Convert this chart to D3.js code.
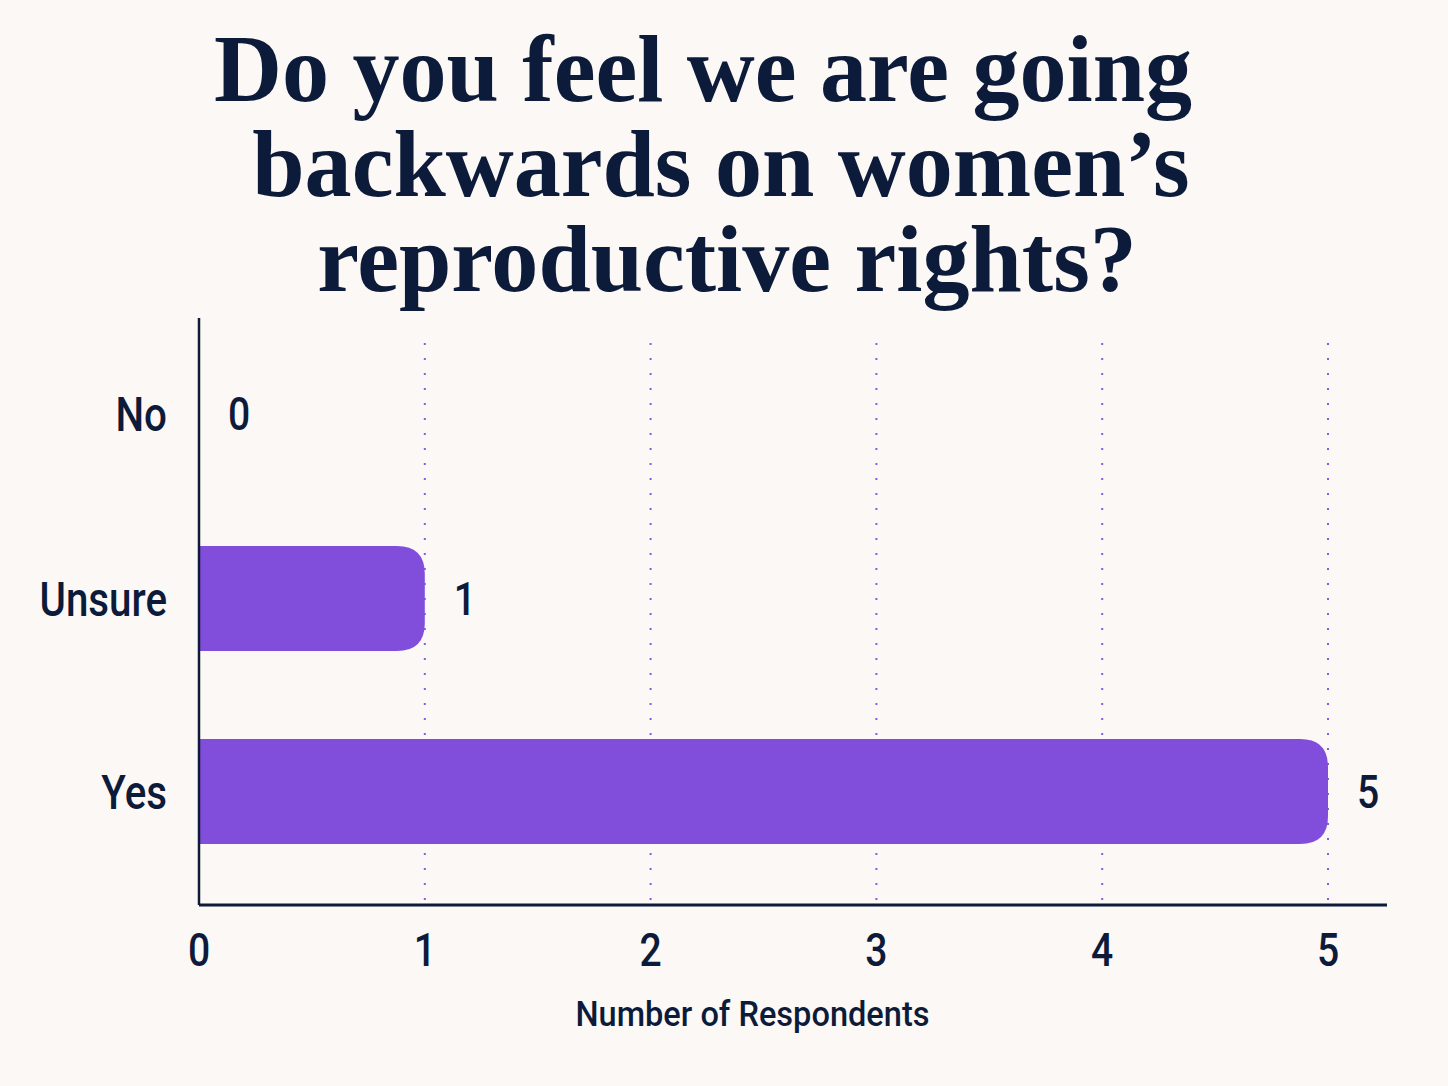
<!DOCTYPE html>
<html>
<head>
<meta charset="utf-8">
<script src="https://cdn.jsdelivr.net/npm/d3@7"></script>
<style>
  html, body { margin: 0; padding: 0; background: #fcf8f5; }
  svg { display: block; }
  .title { font-family: "Liberation Serif", serif; font-weight: 700; fill: #0d1b3a; }
  .lab { font-family: Roboto, sans-serif; font-weight: 500; fill: #0d1b3a; }
</style>
</head>
<body>
<svg id="chart"></svg>
<script>
// chart data
var titleLines = ['Do you feel we are going', 'backwards on women\u2019s', 'reproductive rights?']
var categories = ['No', 'Unsure', 'Yes']
var counts = [0, 1, 5]
var xTicks = [0, 1, 2, 3, 4, 5]
var xLabel = 'Number of Respondents'

var W = 1448, H = 1086
var margin = {top: 292, left: 199, right: 62, bottom: 181}
var width = W - margin.left - margin.right
var height = H - margin.top - margin.bottom

var svg = d3.select('#chart')
    .attr('width', W)
    .attr('height', H)

svg.append('rect').attr('width', W).attr('height', H).attr('fill', '#fcf8f5')

// squeeze text horizontally to mimic a condensed face
function condense (sel, k) {
  sel.each(function () {
    var len = this.getComputedTextLength()
    d3.select(this).attr('textLength', len * k).attr('lengthAdjust', 'spacingAndGlyphs')
  })
}

// title
svg.selectAll('.title')
    .data(titleLines)
  .enter().append('text')
    .attr('class', 'title')
    .attr('x', function (d, i) { return [703, 721, 727][i] })
    .attr('y', function (d, i) { return 101 + i * 95 })
    .attr('text-anchor', 'middle')
    .attr('font-size', 96)
    .text(function (d) { return d })
    .call(condense, 0.98)

var g = svg.append('g')
    .attr('transform', 'translate(' + margin.left + ',' + margin.top + ')')

var x = d3.scaleLinear().domain([0, 5]).range([0, 1129])
var y = d3.scaleBand().domain(categories).range([0, height]).paddingInner(0.456).paddingOuter(0.316)

// dotted grid lines
g.selectAll('.grid')
    .data(xTicks.filter(function (d) { return d > 0 }))
  .enter().append('line')
    .attr('x1', function (d) { return x(d) })
    .attr('x2', function (d) { return x(d) })
    .attr('y1', 51)
    .attr('y2', height)
    .attr('stroke', '#8a5ae6')
    .attr('stroke-width', 2)
    .attr('stroke-dasharray', '2,13')

// bars, rounded on the right end only
var r = 28
g.selectAll('.bar')
    .data(counts)
  .enter().filter(function (d) { return d > 0 }).append('path')
    .attr('fill', '#814ddb')
    .attr('d', function (d) {
      var c = categories[counts.indexOf(d)]
      var y0 = y(c), bh = y.bandwidth(), x1 = x(d), x0 = x(0)
      var rr = Math.min(r, x1 - x0)
      return 'M' + x0 + ',' + y0 +
        'H' + (x1 - rr) +
        'Q' + x1 + ',' + y0 + ' ' + x1 + ',' + (y0 + rr) +
        'V' + (y0 + bh - rr) +
        'Q' + x1 + ',' + (y0 + bh) + ' ' + (x1 - rr) + ',' + (y0 + bh) +
        'H' + x0 + 'Z'
    })

// value labels
g.selectAll('.val')
    .data(counts)
  .enter().append('text')
    .attr('class', 'lab')
    .attr('x', function (d) { return x(d) + 29 })
    .attr('y', function (d, i) { return y(categories[i]) + y.bandwidth() / 2 + (i === 0 ? 8 : 0) })
    .attr('dy', '0.36em')
    .attr('font-size', 46)
    .text(function (d) { return d })
    .call(condense, 0.85)

// category labels
g.selectAll('.cat')
    .data(categories)
  .enter().append('text')
    .attr('class', 'lab')
    .attr('x', -32)
    .attr('y', function (d, i) { return y(d) + y.bandwidth() / 2 + (i === 0 ? 8 : 0) })
    .attr('dy', '0.36em')
    .attr('text-anchor', 'end')
    .attr('font-size', 48)
    .text(function (d) { return d })
    .call(condense, 0.84)

// axes lines
g.append('line')
    .attr('x1', 0).attr('x2', 0)
    .attr('y1', 26).attr('y2', height)
    .attr('stroke', '#0d1b3a').attr('stroke-width', 2.5)

g.append('line')
    .attr('x1', 0).attr('x2', 1188)
    .attr('y1', height).attr('y2', height)
    .attr('stroke', '#0d1b3a').attr('stroke-width', 3)

// x tick labels
g.selectAll('.tick-lab')
    .data(xTicks)
  .enter().append('text')
    .attr('class', 'lab')
    .attr('x', function (d) { return x(d) })
    .attr('y', height + 61)
    .attr('text-anchor', 'middle')
    .attr('font-size', 46)
    .text(function (d) { return d })
    .call(condense, 0.85)

// x axis title
g.append('text')
    .attr('class', 'lab')
    .attr('x', x(2.5) - 11)
    .attr('y', height + 121)
    .attr('text-anchor', 'middle')
    .attr('font-size', 35)
    .text(xLabel)
    .call(condense, 0.93)
</script>
</body>
</html>
